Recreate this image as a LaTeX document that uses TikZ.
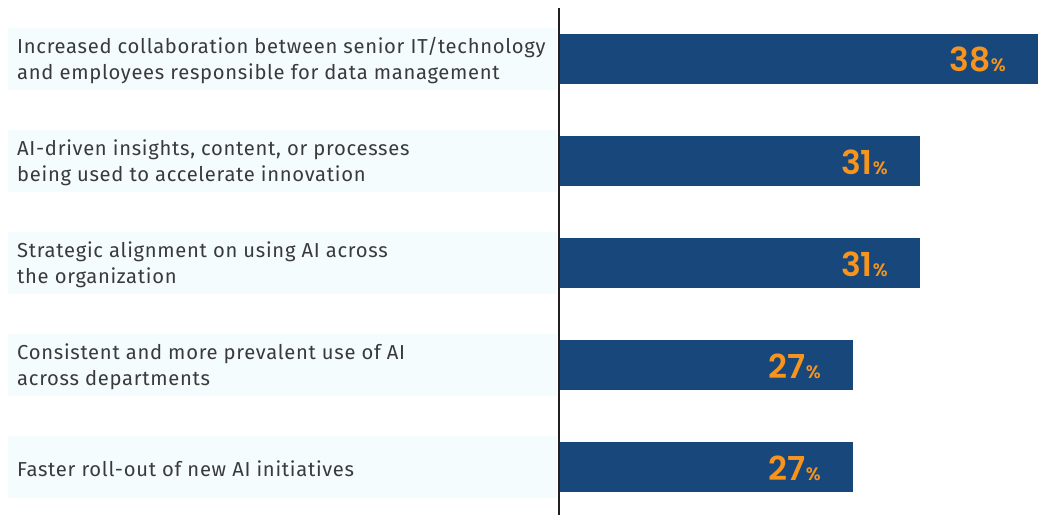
\documentclass[tikz,border=0pt]{standalone}
\usepackage{fontspec}
\setmainfont{Fira Sans}[LetterSpace=3.5]
\newfontfamily\numfont{Poppins SemiBold}
\usepackage{tikz}

\definecolor{barblue}{HTML}{17477B}
\definecolor{valorange}{HTML}{F7941E}
\definecolor{labelbg}{HTML}{F5FCFD}
\definecolor{labeltext}{HTML}{3A3A3A}
\definecolor{axisgray}{HTML}{231F20}

\tikzset{
  answertext/.style={anchor=west, inner sep=0pt, align=left, text=labeltext,
    font=\fontsize{20.2}{26}\selectfont},
  valuetext/.style={anchor=east, inner sep=0pt, text=valorange},
}

% #1 name, #2 centre y, #3 end of bar, #4 value, #5 text
\newcommand{\answer}[5]
{   \fill[labelbg] (8,#2-31) rectangle (557,#2+31);
    \fill[barblue] (559,#2-25) rectangle (#3,#2+25);
    \node[answertext] (#1) at (17,#2+2) {#5};
    \node[valuetext] (#1val) at (#3-32,#2+13) [anchor=base east]
      {\numfont\fontsize{33}{33}\selectfont #4\fontsize{18}{18}\selectfont\%};
}

\begin{document}
\begin{tikzpicture}[x=1pt,y=-1pt]
 \useasboundingbox (0,0) rectangle (1042,515);

 \answer{collab}{58.5}{1038}{38}{Increased collaboration between senior IT/technology\\and employees responsible for data management}
 \answer{insights}{161}{920}{31}{AI-driven insights, content, or processes\\being used to accelerate innovation}
 \answer{strategy}{263}{920}{31}{Strategic alignment on using AI across\\the organization}
 \answer{consistent}{365}{853}{27}{Consistent and more prevalent use of AI\\across departments}
 \answer{faster}{467}{853}{27}{Faster roll-out of new AI initiatives}

 \coordinate (axistop) at (559,8);
 \coordinate (axisbot) at (559,515);
 \draw[axisgray, line width=2pt] (axistop) -- (axisbot);

\end{tikzpicture}
\end{document}
